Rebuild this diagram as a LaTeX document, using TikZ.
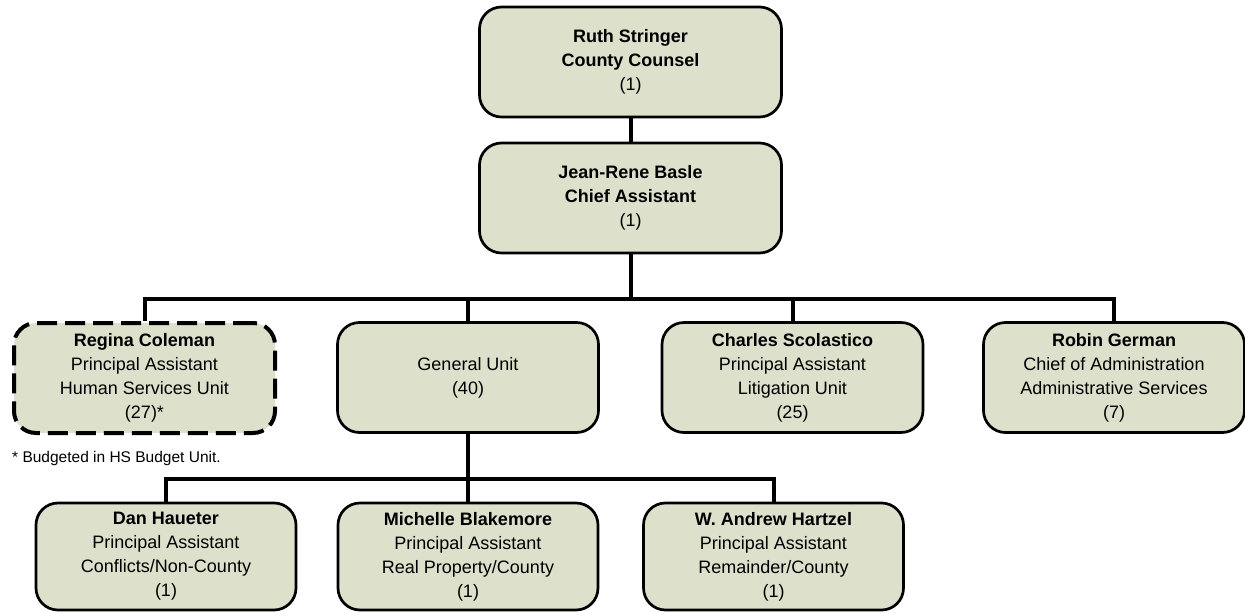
\documentclass[tikz,border=0pt]{standalone}
\usepackage{fontspec}
\setmainfont{Liberation Sans}
\definecolor{boxfill}{RGB}{221,224,203}
\tikzset{
  orgbox/.style={draw=black, line width=2.7pt, fill=boxfill, rounded corners=22pt,
    align=center, inner sep=0pt, font=\fontsize{18}{24}\selectfont},
  topbox/.style={orgbox, minimum width=302pt, minimum height=110pt},
  midbox/.style={orgbox, minimum width=261pt, minimum height=110pt},
  lowbox/.style={orgbox, minimum width=260pt, minimum height=107pt},
  hsbox/.style={midbox, dash pattern=on 20pt off 8pt, line width=4pt},
  conn/.style={draw=black, line width=4pt}
}
\begin{document}
\begin{tikzpicture}[x=1pt,y=-1pt]
\useasboundingbox (0,0) rectangle (1245,613);
% level 0 and 1
\node[topbox] (top) at (630.5,62) {\textbf{Ruth Stringer}\\\textbf{County Counsel}\\(1)};
\node[topbox] (chief) at (630.5,198) {\textbf{Jean-Rene Basle}\\\textbf{Chief Assistant}\\(1)};
% level 2
\node[hsbox] (regina) at (144.5,378) {\textbf{Regina Coleman}\\Principal Assistant\\Human Services Unit\\(27)*};
\node[midbox] (general) at (468,377.5) {General Unit\\(40)};
\node[midbox] (charles) at (792.5,377.5) {\textbf{Charles Scolastico}\\Principal Assistant\\Litigation Unit\\(25)};
\node[midbox] (robin) at (1114,377.5) {\textbf{Robin German}\\Chief of Administration\\Administrative Services\\(7)};
% level 3
\node[lowbox] (dan) at (166,556.5) {\textbf{Dan Haueter}\\Principal Assistant\\Conflicts/Non-County\\(1)};
\node[lowbox] (michelle) at (468,556.5) {\textbf{Michelle Blakemore}\\Principal Assistant\\Real Property/County\\(1)};
\node[lowbox] (andrew) at (773.5,556.5) {\textbf{W. Andrew Hartzel}\\Principal Assistant\\Remainder/County\\(1)};
% footnote
\node[anchor=base west, inner sep=0pt, font=\fontsize{15.5}{18}\selectfont] (note) at (12,462) {* Budgeted in HS Budget Unit.};
% connectors
\coordinate (b1) at (630.5,299);
\coordinate (b2) at (468,479);
\draw[conn] (top.south) -- (chief.north);
\draw[conn] (chief.south) -- (b1);
\draw[conn] (regina.north) |- (b1) -| (robin.north);
\draw[conn] (general.north) -- (general.north |- b1);
\draw[conn] (charles.north) -- (charles.north |- b1);
\draw[conn] (general.south) -- (michelle.north);
\draw[conn] (dan.north) |- (b2) -| (andrew.north);
\end{tikzpicture}
\end{document}
